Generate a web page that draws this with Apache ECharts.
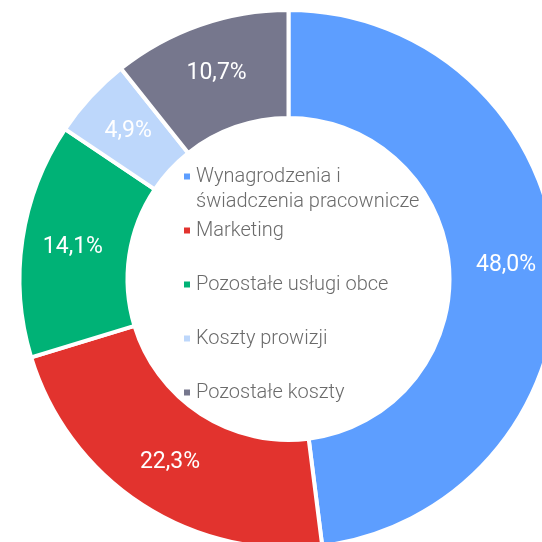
<!DOCTYPE html>
<html>
<head>
<meta charset="utf-8">
<script src="https://cdn.jsdelivr.net/npm/echarts@6/dist/echarts.min.js"></script>
<style>
  html, body { margin: 0; padding: 0; background: #ffffff; }
  #chart { width: 542px; height: 542px; }
</style>
</head>
<body>
<div id="chart"></div>
<script>
// kategorie i udziały (%)
var categories = [
  'Wynagrodzenia i\nświadczenia pracownicze',
  'Marketing',
  'Pozostałe usługi obce',
  'Koszty prowizji',
  'Pozostałe koszty'
];
var shares = [48.0, 22.3, 14.1, 4.9, 10.7];
var colors = ['#5d9eff', '#e2332e', '#00b276', '#bdd7fb', '#76778d'];

var chart = echarts.init(document.getElementById('chart'));

var seriesData = categories.map(function (name, i) {
  return { name: name, value: shares[i], itemStyle: { color: colors[i] } };
});

// pierwsza pozycja legendy ma dwie linie, ikona przy pierwszej
var legendData = categories.map(function (name, i) {
  return {
    name: name,
    textStyle: { padding: i === 0 ? 0 : [25, 0, 25, 0] }
  };
});

var option = {
  backgroundColor: '#ffffff',
  color: colors,
  legend: {
    orient: 'vertical',
    left: 182,
    top: 139,
    padding: 0,
    itemGap: -21,
    itemWidth: 8,
    itemHeight: 8,
    icon: 'rect',
    selectedMode: false,
    data: legendData,
    formatter: function (name) {
      // pusta linia nad dwuliniowym opisem, żeby ikona była przy pierwszej linii
      return name.indexOf('\n') >= 0 ? '\n' + name : name;
    },
    textStyle: {
      fontFamily: 'Roboto',
      fontWeight: 300,
      fontSize: 20,
      lineHeight: 25,
      color: '#6b6b6b'
    }
  },
  series: [
    {
      type: 'pie',
      center: [288.5, 279],
      radius: [161, 269],
      startAngle: 90,
      clockwise: true,
      avoidLabelOverlap: false,
      emphasis: { disabled: true },
      itemStyle: { borderColor: '#ffffff', borderWidth: 4 },
      label: {
        show: true,
        position: 'inside',
        color: '#ffffff',
        fontFamily: 'Roboto',
        fontWeight: 400,
        fontSize: 23,
        formatter: function (p) {
          return p.value.toFixed(1).replace('.', ',') + '%';
        }
      },
      labelLine: { show: false },
      data: seriesData
    }
  ]
};

chart.setOption(option);
</script>
</body>
</html>
